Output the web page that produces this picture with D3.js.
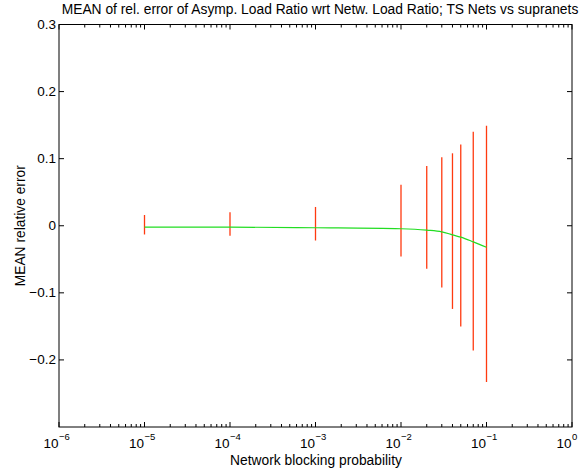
<!DOCTYPE html>
<html><head><meta charset="utf-8">
<script src="https://cdn.jsdelivr.net/npm/d3@7/dist/d3.min.js"></script>
<style>
body{margin:0;background:#fff;}
text{font-family:"Liberation Sans",Arial,Helvetica,sans-serif;fill:#000;}
</style></head>
<body><svg id="c" width="580" height="469"></svg>
<script>
const blockingProb = [1e-5, 1e-4, 1e-3, 1e-2, 2e-2, 3e-2, 4e-2, 5e-2, 7e-2, 1e-1];
const meanError    = [-0.002, -0.002, -0.003, -0.0045, -0.0065, -0.009, -0.0135, -0.017, -0.024, -0.032];
const errUpper     = [0.016, 0.020, 0.028, 0.061, 0.089, 0.102, 0.108, 0.121, 0.140, 0.149];
const errLower     = [-0.013, -0.015, -0.022, -0.046, -0.064, -0.092, -0.124, -0.150, -0.186, -0.233];
const yTicks = [-0.2, -0.1, 0, 0.1, 0.2, 0.3];
const xExponents = [-6, -5, -4, -3, -2, -1, 0];

const svg = d3.select("#c");
const L = 59, R = 572, T = 24.5, B = 427;
const x = d3.scaleLog().domain([1e-6, 1]).range([L, R]);
const y = d3.scaleLinear().domain([-0.3, 0.3]).range([B, T]);

// box
svg.append("rect").attr("x", L).attr("y", T).attr("width", R - L).attr("height", B - T)
  .attr("fill", "none").attr("stroke", "#000").attr("stroke-width", 1);

// x ticks (major + minor), bottom and top, inward
const minor = [];
for (let e = -6; e < 0; e++) for (let m = 2; m <= 9; m++) minor.push(m * Math.pow(10, e));
const g = svg.append("g").attr("stroke", "#000").attr("stroke-width", 1);
xExponents.forEach(e => {
  const px = x(Math.pow(10, e));
  g.append("line").attr("x1", px).attr("x2", px).attr("y1", B).attr("y2", B - 5);
  g.append("line").attr("x1", px).attr("x2", px).attr("y1", T).attr("y2", T + 5);
});
minor.forEach(v => {
  const px = x(v);
  g.append("line").attr("x1", px).attr("x2", px).attr("y1", B).attr("y2", B - 3);
  g.append("line").attr("x1", px).attr("x2", px).attr("y1", T).attr("y2", T + 3);
});
yTicks.forEach(v => {
  const py = y(v);
  g.append("line").attr("x1", L).attr("x2", L + 5).attr("y1", py).attr("y2", py);
  g.append("line").attr("x1", R).attr("x2", R - 5).attr("y1", py).attr("y2", py);
});

// y tick labels
yTicks.forEach(v => {
  svg.append("text").attr("x", L - 3).attr("y", y(v) + 4.5).attr("text-anchor", "end")
    .attr("font-size", 13.5).text(v === 0 ? "0" : d3.format(".1f")(v).replace("-", "\u2212"));
});

// x tick labels 10^e
xExponents.forEach(e => {
  const px = x(Math.pow(10, e));
  svg.append("text").attr("x", px - 0.5).attr("y", 448).attr("text-anchor", "end").attr("font-size", 13.5).text("10");
  svg.append("text").attr("x", px).attr("y", 440).attr("text-anchor", "start").attr("font-size", 9.5)
    .text(e === 0 ? "0" : "\u2212" + Math.abs(e));
});

// error bars
svg.append("g").selectAll("line").data(blockingProb).join("line")
  .attr("x1", d => x(d)).attr("x2", d => x(d))
  .attr("y1", (d, i) => y(errUpper[i])).attr("y2", (d, i) => y(errLower[i]))
  .attr("stroke", "#ff3a10").attr("stroke-width", 1.3);

// mean line
const line = d3.line().x(d => x(d[0])).y(d => y(d[1])).curve(d3.curveMonotoneX);
svg.append("path").datum(blockingProb.map((d, i) => [d, meanError[i]]))
  .attr("d", line).attr("fill", "none").attr("stroke", "#22dd22").attr("stroke-width", 1.2);

// titles
svg.append("text").attr("x", 320).attr("y", 14).attr("text-anchor", "middle").attr("font-size", 13.8)
  .text("MEAN of rel. error of Asymp. Load Ratio wrt Netw. Load Ratio; TS Nets vs supranets");
svg.append("text").attr("x", 316).attr("y", 465).attr("text-anchor", "middle").attr("font-size", 13.8)
  .text("Network blocking probability");
svg.append("text").attr("transform", `translate(25,${y(0)}) rotate(-90)`).attr("text-anchor", "middle").attr("font-size", 13.8)
  .text("MEAN relative error");
</script></body></html>
